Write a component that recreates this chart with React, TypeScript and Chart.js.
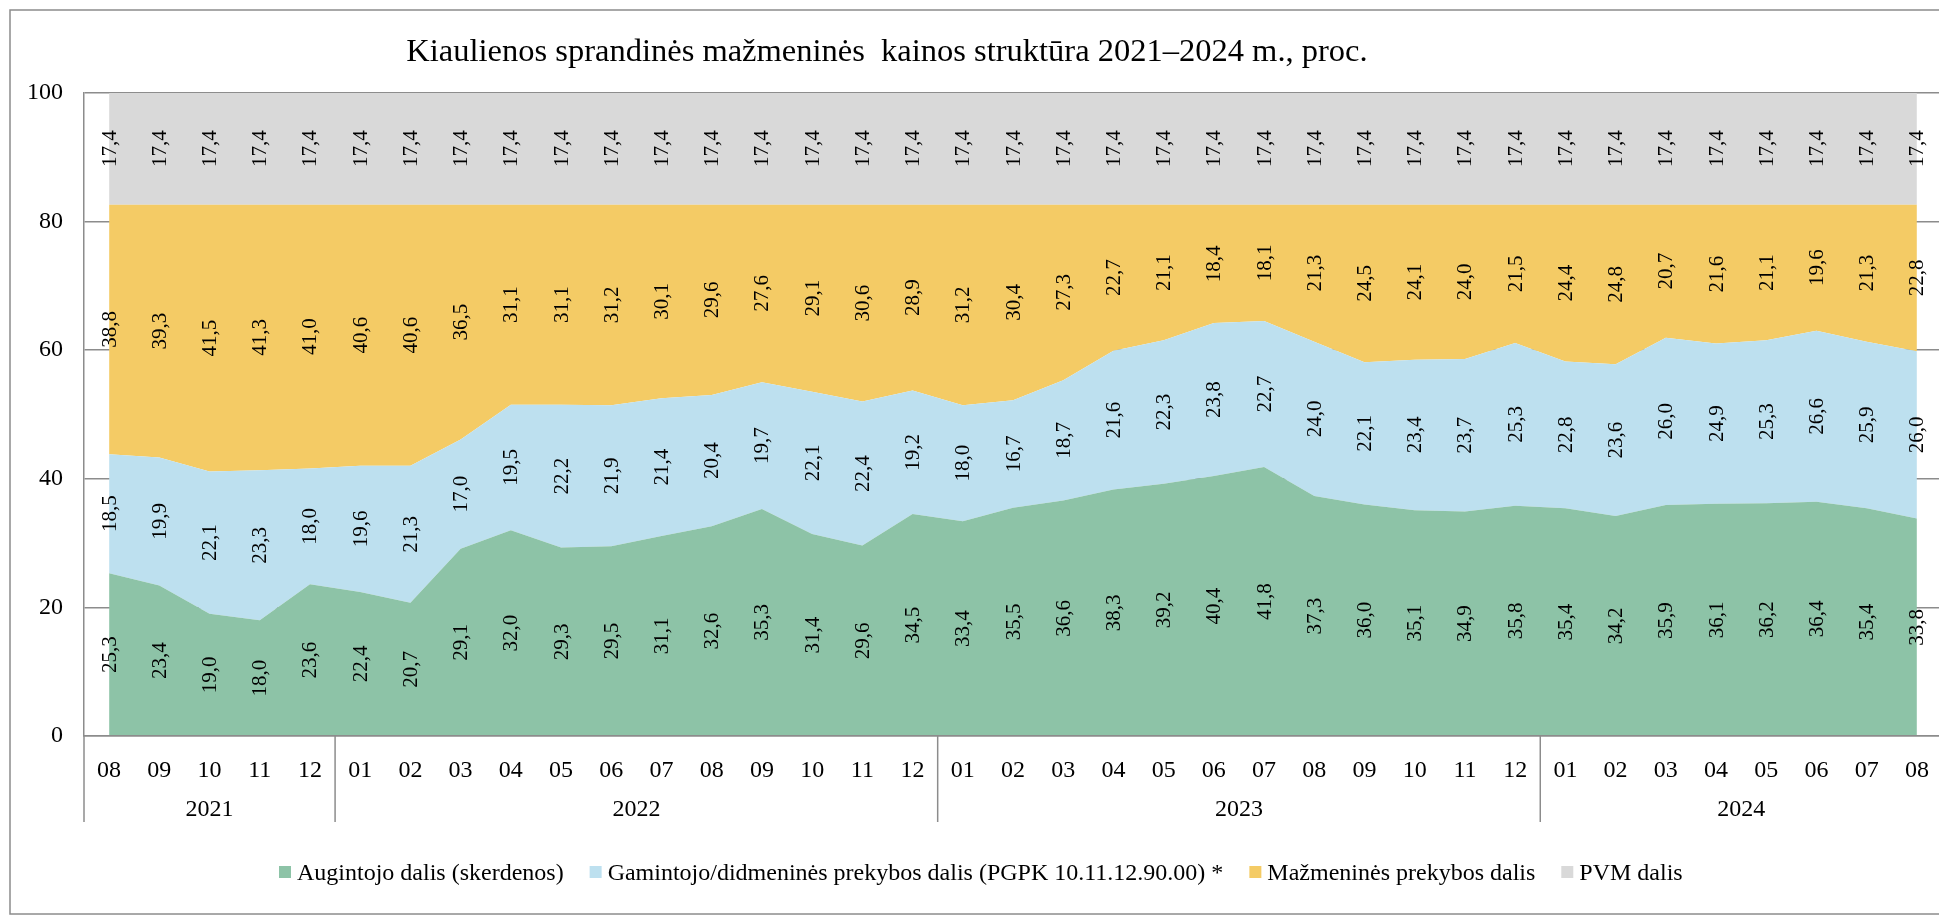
import React, { useEffect, useRef } from 'react';
import { Chart, registerables } from 'chart.js';

Chart.register(...registerables);

const titleText = 'Kiaulienos sprandinės mažmeninės  kainos struktūra 2021–2024 m., proc.';

const monthLabels = [
  '08', '09', '10', '11', '12',
  '01', '02', '03', '04', '05', '06', '07', '08', '09', '10', '11', '12',
  '01', '02', '03', '04', '05', '06', '07', '08', '09', '10', '11', '12',
  '01', '02', '03', '04', '05', '06', '07', '08',
];

const yearLabels = ['2021', '2022', '2023', '2024'];
const yearCounts = [5, 12, 12, 8];

const augintojo = [
  25.3, 23.4, 19.0, 18.0, 23.6,
  22.4, 20.7, 29.1, 32.0, 29.3, 29.5, 31.1, 32.6, 35.3, 31.4, 29.6, 34.5,
  33.4, 35.5, 36.6, 38.3, 39.2, 40.4, 41.8, 37.3, 36.0, 35.1, 34.9, 35.8,
  35.4, 34.2, 35.9, 36.1, 36.2, 36.4, 35.4, 33.8,
];

const gamintojo = [
  18.5, 19.9, 22.1, 23.3, 18.0,
  19.6, 21.3, 17.0, 19.5, 22.2, 21.9, 21.4, 20.4, 19.7, 22.1, 22.4, 19.2,
  18.0, 16.7, 18.7, 21.6, 22.3, 23.8, 22.7, 24.0, 22.1, 23.4, 23.7, 25.3,
  22.8, 23.6, 26.0, 24.9, 25.3, 26.6, 25.9, 26.0,
];

const mazmenines = [
  38.8, 39.3, 41.5, 41.3, 41.0,
  40.6, 40.6, 36.5, 31.1, 31.1, 31.2, 30.1, 29.6, 27.6, 29.1, 30.6, 28.9,
  31.2, 30.4, 27.3, 22.7, 21.1, 18.4, 18.1, 21.3, 24.5, 24.1, 24.0, 21.5,
  24.4, 24.8, 20.7, 21.6, 21.1, 19.6, 21.3, 22.8,
];

const pvm = [
  17.4, 17.4, 17.4, 17.4, 17.4,
  17.4, 17.4, 17.4, 17.4, 17.4, 17.4, 17.4, 17.4, 17.4, 17.4, 17.4, 17.4,
  17.4, 17.4, 17.4, 17.4, 17.4, 17.4, 17.4, 17.4, 17.4, 17.4, 17.4, 17.4,
  17.4, 17.4, 17.4, 17.4, 17.4, 17.4, 17.4, 17.4,
];

const seriesNames = [
  'Augintojo dalis (skerdenos)',
  'Gamintojo/didmeninės prekybos dalis (PGPK 10.11.12.90.00) *',
  'Mažmeninės prekybos dalis',
  'PVM dalis',
];
const seriesColors = ['#8DC3A7', '#BDE0EF', '#F4CB65', '#D9D9D9'];
const seriesValues = [augintojo, gamintojo, mazmenines, pvm];

const FONT = "'Liberation Serif', 'Times New Roman', serif";
const LINE = '#8c8c8c';
const CANVAS_W = 1960;
const CANVAS_H = 917;

const fmt = (v: number) => v.toFixed(1).replace('.', ',');

const decorPlugin = {
  id: 'decor',
  beforeDraw(chart: any) {
    const ctx = chart.ctx;
    ctx.save();
    ctx.fillStyle = '#ffffff';
    ctx.fillRect(0, 0, chart.width, chart.height);
    ctx.strokeStyle = LINE;
    ctx.lineWidth = 1.5;
    ctx.strokeRect(10, 10, chart.width + 40, 904);
    ctx.fillStyle = '#000';
    ctx.font = `32.5px ${FONT}`;
    ctx.textAlign = 'center';
    ctx.textBaseline = 'alphabetic';
    ctx.fillText(titleText, 887, 61);
    ctx.restore();
  },
  afterDatasetsDraw(chart: any) {
    const ctx = chart.ctx;
    const xs = chart.scales.x;
    const ys = chart.scales.y;
    ctx.save();
    ctx.fillStyle = '#000';
    ctx.font = `21px ${FONT}`;
    ctx.textAlign = 'center';
    ctx.textBaseline = 'middle';
    for (let j = 0; j < monthLabels.length; j++) {
      let base = 0;
      for (let i = 0; i < seriesValues.length; i++) {
        const v = seriesValues[i][j];
        const x = xs.getPixelForValue(j);
        const y = ys.getPixelForValue(base + v / 2);
        base += v;
        ctx.save();
        ctx.translate(x, y);
        ctx.rotate(-Math.PI / 2);
        ctx.fillText(fmt(v), 0, 1);
        ctx.restore();
      }
    }
    ctx.restore();
  },
  afterDraw(chart: any) {
    const ctx = chart.ctx;
    const xs = chart.scales.x;
    const area = chart.chartArea;
    const half = (xs.getPixelForValue(1) - xs.getPixelForValue(0)) / 2;
    ctx.save();
    // year separators and labels
    ctx.strokeStyle = LINE;
    ctx.lineWidth = 1.5;
    ctx.fillStyle = '#000';
    ctx.font = `24px ${FONT}`;
    ctx.textAlign = 'center';
    ctx.textBaseline = 'alphabetic';
    let start = 0;
    for (let g = 0; g < yearLabels.length; g++) {
      const end = start + yearCounts[g];
      const x0 = xs.getPixelForValue(start) - half;
      const x1 = xs.getPixelForValue(end - 1) + half;
      ctx.beginPath();
      ctx.moveTo(x0, area.bottom);
      ctx.lineTo(x0, 822);
      ctx.stroke();
      ctx.fillText(yearLabels[g], (x0 + x1) / 2, 816);
      start = end;
    }
    const xEnd = xs.getPixelForValue(monthLabels.length - 1) + half;
    ctx.beginPath();
    ctx.moveTo(xEnd, area.bottom);
    ctx.lineTo(xEnd, 822);
    ctx.stroke();

    // legend
    ctx.textAlign = 'left';
    let lx = 279;
    for (let i = 0; i < seriesNames.length; i++) {
      ctx.fillStyle = seriesColors[i];
      ctx.fillRect(lx, 866, 12, 12);
      ctx.fillStyle = '#000';
      ctx.fillText(seriesNames[i], lx + 18, 880);
      lx += 18 + ctx.measureText(seriesNames[i]).width + 26;
    }
    ctx.restore();
  },
};

export default function App() {
  const canvasRef = useRef<HTMLCanvasElement | null>(null);

  useEffect(() => {
    if (!canvasRef.current) return;
    const chart = new Chart(canvasRef.current, {
      type: 'line',
      data: {
        labels: monthLabels,
        datasets: seriesValues.map((vals, i) => ({
          label: seriesNames[i],
          data: vals,
          backgroundColor: seriesColors[i],
          borderColor: seriesColors[i],
          borderWidth: 0,
          pointRadius: 0,
          tension: 0,
          fill: i === 0 ? 'origin' : '-1',
        })),
      },
      options: {
        responsive: false,
        maintainAspectRatio: false,
        animation: false,
        devicePixelRatio: 1,
        layout: { padding: { top: 92.7, left: 0, right: 18, bottom: 0 } },
        plugins: {
          legend: { display: false },
          title: { display: false },
          tooltip: { enabled: false },
        },
        scales: {
          x: {
            type: 'category',
            offset: true,
            grid: { display: false },
            border: { display: true, color: LINE, width: 1.5, z: 1 },
            ticks: {
              autoSkip: false,
              maxRotation: 0,
              minRotation: 0,
              padding: 12,
              color: '#000',
              font: { family: FONT, size: 24 },
            },
            afterFit(scale: any) {
              scale.height = 181;
            },
          },
          y: {
            stacked: true,
            min: 0,
            max: 100,
            ticks: {
              stepSize: 20,
              padding: 21,
              color: '#000',
              font: { family: FONT, size: 24 },
            },
            grid: { color: LINE, lineWidth: 1.5, drawTicks: false },
            border: { display: true, color: LINE, width: 1.5 },
            afterFit(scale: any) {
              scale.width = 84;
            },
          },
        },
      },
      plugins: [decorPlugin],
    });
    return () => chart.destroy();
  }, []);

  return (
    <div
      style={{
        position: 'fixed',
        left: 0,
        top: 0,
        width: 1939,
        height: 917,
        overflow: 'hidden',
        background: '#fff',
      }}
    >
      <canvas
        ref={canvasRef}
        width={CANVAS_W}
        height={CANVAS_H}
        style={{ width: CANVAS_W, height: CANVAS_H, display: 'block' }}
      />
    </div>
  );
}
